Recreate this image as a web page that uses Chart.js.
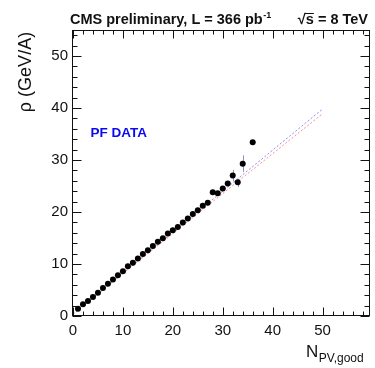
<!DOCTYPE html>
<html>
<head>
<meta charset="utf-8">
<script src="https://cdn.jsdelivr.net/npm/chart.js@4/dist/chart.umd.min.js"></script>
<style>
html,body{margin:0;padding:0;background:#fff;}
#wrap{width:375px;height:368px;position:relative;}
</style>
</head>
<body>
<div id="wrap"><canvas id="c" width="375" height="368"></canvas></div>
<script>
// ---- data ----
const nPV = [1,2,3,4,5,6,7,8,9,10,11,12,13,14,15,16,17,18,19,20,21,22,23,24,25,26,27,28,29,30,31,32,33,34,36];
const rho = [1.4,2.25,2.9,3.65,4.45,5.4,6.2,7.0,7.85,8.6,9.55,10.25,11.05,11.9,12.65,13.45,14.3,14.95,15.85,16.5,17.1,18.0,18.75,19.6,20.35,21.2,21.8,23.8,23.6,24.5,25.5,27.0,25.7,29.3,33.4];
const errN = [32,33,34];
const errLo = [25.9,24.8,27.7];
const errHi = [28.1,26.3,30.9];
const fitX = [0,50];
const fitBlue = [0.3,39.8];
const fitRed = [0.5,38.9];
const xTickVals = [0,10,20,30,40,50];
const yTickVals = [0,10,20,30,40,50];
const titleLeft = 'CMS preliminary, L = 366 pb';
const titleSup = '-1';
const titleRight = '√s = 8 TeV';
const yTitle = 'ρ (GeV/A)';
const xTitleMain = 'N';
const xTitleSub = 'PV,good';
const labelText = 'PF DATA';

const FONT = '"Liberation Sans", Arial, Helvetica, sans-serif';

const deco = {
  id: 'deco',
  beforeDatasetsDraw(chart) {
    const ctx = chart.ctx, xs = chart.scales.x, ys = chart.scales.y;
    ctx.save();
    ctx.strokeStyle = '#8c8cd0';
    ctx.lineWidth = 1;
    errN.forEach((n, i) => {
      const px = Math.round(xs.getPixelForValue(n)) + 0.5;
      ctx.beginPath();
      ctx.moveTo(px, ys.getPixelForValue(errLo[i]));
      ctx.lineTo(px, ys.getPixelForValue(errHi[i]));
      ctx.stroke();
    });
    ctx.restore();
  },
  afterDraw(chart) {
    const ctx = chart.ctx, a = chart.chartArea, xs = chart.scales.x, ys = chart.scales.y;
    ctx.save();
    ctx.strokeStyle = '#111';
    ctx.lineWidth = 1;
    const L = Math.round(a.left) + 0.5, R = Math.round(a.right) - 0.5;
    const T = Math.round(a.top) + 0.5, B = Math.round(a.bottom) - 0.5;
    ctx.strokeRect(L, T, R - L, B - T);
    ctx.beginPath();
    for (let v = 0; v <= 58; v += 2) {
      const px = Math.round(xs.getPixelForValue(v)) + 0.5;
      const len = (v % 10 === 0) ? 8 : 4;
      ctx.moveTo(px, B); ctx.lineTo(px, B - len);
      ctx.moveTo(px, T); ctx.lineTo(px, T + len);
    }
    for (let v = 0; v <= 54; v += 2) {
      const py = Math.round(ys.getPixelForValue(v)) + 0.5;
      const len = (v % 10 === 0) ? 9 : 5;
      ctx.moveTo(L, py); ctx.lineTo(L + len, py);
      ctx.moveTo(R, py); ctx.lineTo(R - len, py);
    }
    ctx.stroke();

    // top title
    ctx.fillStyle = '#111';
    ctx.textBaseline = 'alphabetic';
    ctx.textAlign = 'left';
    ctx.font = 'bold 14.5px ' + FONT;
    ctx.fillText(titleLeft, 70, 24);
    const w1 = ctx.measureText(titleLeft).width;
    ctx.font = 'bold 9px ' + FONT;
    ctx.fillText(titleSup, 70 + w1 + 0.5, 18);
    ctx.font = 'bold 14.5px ' + FONT;
    ctx.textAlign = 'right';
    ctx.fillText(titleRight, 368, 24);
    const wr = ctx.measureText(titleRight).width;
    const wsq = ctx.measureText('√').width;
    const ws = ctx.measureText('s').width;
    const sx = 368 - wr + wsq;
    ctx.beginPath();
    ctx.lineWidth = 1;
    ctx.moveTo(sx - 1, 13.5); ctx.lineTo(sx + ws, 13.5);
    ctx.stroke();

    // y title
    ctx.save();
    ctx.translate(26, 72);
    ctx.rotate(-Math.PI / 2);
    ctx.textAlign = 'center';
    ctx.textBaseline = 'middle';
    ctx.font = '18px ' + FONT;
    ctx.fillText(yTitle, 0, 0);
    ctx.restore();

    // x title
    ctx.textAlign = 'left';
    ctx.textBaseline = 'alphabetic';
    ctx.font = '17px ' + FONT;
    ctx.fillText(xTitleMain, 306, 357);
    const wn = ctx.measureText(xTitleMain).width;
    ctx.font = '12px ' + FONT;
    ctx.fillText(xTitleSub, 306 + wn + 0.5, 362);

    // label
    ctx.fillStyle = '#0a0af0';
    ctx.font = 'bold 13.5px ' + FONT;
    ctx.fillText(labelText, 90.5, 136.7);
    ctx.restore();
  }
};

new Chart(document.getElementById('c'), {
  data: {
    datasets: [
      { type: 'line', data: fitX.map((x, i) => ({x, y: fitBlue[i]})), borderColor: 'rgba(110,110,255,0.8)', borderWidth: 1, borderDash: [2, 2], pointRadius: 0, fill: false, order: 3 },
      { type: 'line', data: fitX.map((x, i) => ({x, y: fitRed[i]})), borderColor: 'rgba(255,110,110,0.8)', borderWidth: 1, borderDash: [2, 2], pointRadius: 0, fill: false, order: 2 },
      { type: 'scatter', data: nPV.map((x, i) => ({x, y: rho[i]})), backgroundColor: '#000', borderColor: '#000', borderWidth: 0, pointRadius: 3, order: 1 }
    ]
  },
  options: {
    responsive: false,
    animation: false,
    events: [],
    layout: { padding: { top: 30, right: 5, left: 0, bottom: 0 } },
    plugins: { legend: { display: false }, tooltip: { enabled: false }, title: { display: false } },
    scales: {
      x: {
        type: 'linear', min: -0.2, max: 59.5,
        grid: { display: false, drawTicks: false },
        border: { display: false },
        afterBuildTicks: s => { s.ticks = xTickVals.map(v => ({value: v})); },
        afterFit: s => { s.height = 52; },
        ticks: { color: '#111', font: { family: FONT, size: 15 }, padding: 6, maxRotation: 0, autoSkip: false }
      },
      y: {
        type: 'linear', min: 0, max: 55,
        grid: { display: false, drawTicks: false },
        border: { display: false },
        afterBuildTicks: s => { s.ticks = yTickVals.map(v => ({value: v})); },
        afterFit: s => { s.width = 72; },
        ticks: { color: '#111', font: { family: FONT, size: 15 }, padding: 4, autoSkip: false }
      }
    }
  },
  plugins: [deco]
});
</script>
</body>
</html>
